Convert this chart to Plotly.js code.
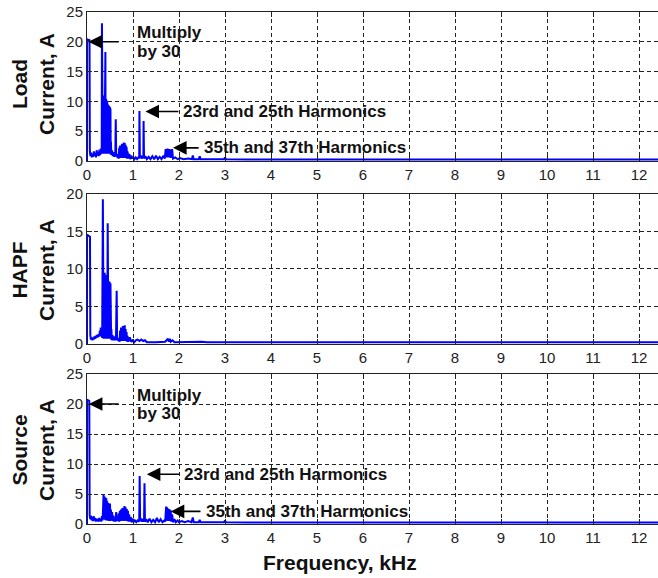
<!DOCTYPE html>
<html>
<head>
<meta charset="utf-8">
<script src="https://cdn.plot.ly/plotly-3.0.1.min.js"></script>
<style>html,body{margin:0;padding:0;background:#fff;}#chart{width:658px;height:578px;}</style>
</head>
<body>
<div id="chart"></div>
<script>
// Frequency in kHz, amplitude in A
const loadFreq = [0,0.001,0.03,0.055,0.062,0.075,0.09,0.105,0.12,0.135,0.15,0.165,0.18,0.195,0.21,0.225,0.24,0.255,0.27,0.285,0.30,0.31,0.32,0.325,0.33,0.335,0.34,0.345,0.35,0.355,0.36,0.365,0.37,0.375,0.38,0.385,0.39,0.395,0.40,0.405,0.41,0.415,0.42,0.425,0.43,0.435,0.44,0.445,0.45,0.455,0.46,0.465,0.47,0.475,0.48,0.485,0.49,0.495,0.50,0.505,0.51,0.515,0.52,0.53,0.545,0.56,0.575,0.59,0.605,0.615,0.625,0.635,0.65,0.665,0.68,0.69,0.70,0.71,0.72,0.73,0.74,0.75,0.76,0.77,0.78,0.79,0.80,0.81,0.82,0.83,0.84,0.85,0.86,0.87,0.88,0.90,0.92,0.94,0.96,0.98,1.00,1.03,1.06,1.09,1.12,1.135,1.14,1.15,1.17,1.19,1.21,1.225,1.23,1.24,1.27,1.30,1.34,1.38,1.42,1.46,1.50,1.54,1.58,1.62,1.66,1.69,1.71,1.72,1.73,1.74,1.75,1.76,1.77,1.78,1.79,1.80,1.81,1.82,1.83,1.84,1.85,1.87,1.92,1.97,2.02,2.10,2.20,2.28,2.30,2.32,2.43,2.45,2.47,2.60,2.80,2.98,3.00,3.02,3.50,12.5];
const loadAmp = [0,20.5,20.2,20.4,1.6,0.8,1.4,0.6,1.2,0.7,1.6,0.9,1.3,0.6,1.8,0.9,1.5,0.8,1.9,1.0,1.6,2.1,1.2,23.1,1.3,11.0,1.2,10.9,1.3,11.0,1.2,10.8,1.4,10.7,1.2,10.5,1.3,10.6,18.3,1.2,10.3,1.3,10.2,1.2,10.0,1.3,9.8,1.2,9.4,1.3,9.3,1.2,9.2,1.3,9.1,1.2,9.0,1.3,8.9,1.2,8.8,1.1,3.2,1.0,1.8,0.8,1.5,0.7,1.3,0.8,7.0,0.7,1.2,0.5,0.9,0.4,2.2,0.6,2.6,0.5,2.4,0.6,2.9,0.5,2.8,0.6,3.1,0.5,3.0,0.6,2.7,0.5,2.4,0.4,1.6,0.4,1.2,0.3,0.9,0.4,0.7,0.3,0.6,0.3,0.6,0.4,8.4,0.5,0.9,0.4,0.8,0.5,6.7,0.4,0.8,0.3,0.7,0.3,0.8,0.3,0.9,0.3,0.7,0.3,0.9,0.4,2.0,0.6,2.0,0.6,2.1,0.6,2.0,0.6,2.0,0.6,1.9,0.5,1.9,0.6,2.0,0.4,0.6,0.3,0.5,0.3,0.4,0.3,0.9,0.3,0.3,0.8,0.3,0.35,0.3,0.3,0.6,0.3,0.25,0.25];

const hapfFreq = [0,0.001,0.035,0.065,0.072,0.085,0.10,0.115,0.13,0.145,0.16,0.175,0.19,0.205,0.22,0.235,0.25,0.265,0.28,0.29,0.30,0.31,0.32,0.33,0.345,0.35,0.355,0.36,0.365,0.37,0.375,0.38,0.385,0.39,0.395,0.40,0.405,0.41,0.415,0.42,0.425,0.43,0.435,0.44,0.45,0.455,0.46,0.465,0.47,0.475,0.48,0.485,0.49,0.495,0.50,0.505,0.51,0.515,0.52,0.525,0.53,0.54,0.555,0.57,0.585,0.60,0.615,0.63,0.645,0.655,0.67,0.685,0.70,0.71,0.72,0.73,0.74,0.75,0.76,0.77,0.78,0.79,0.80,0.81,0.82,0.83,0.84,0.85,0.86,0.87,0.88,0.90,0.93,0.96,0.99,1.02,1.06,1.10,1.14,1.18,1.22,1.26,1.30,1.50,1.70,1.76,1.78,1.80,1.82,1.86,1.90,2.50,2.60,12.5];
const hapfAmp = [0,14.6,14.4,14.3,1.2,0.6,0.9,0.5,0.8,0.6,1.0,0.7,1.1,0.8,1.2,0.9,1.3,1.0,1.8,1.2,2.2,1.0,2.0,0.8,19.3,0.8,9.6,0.7,9.5,0.8,9.4,0.7,9.5,0.8,9.3,0.7,9.2,0.8,9.0,0.7,9.2,0.8,8.8,0.7,16.1,0.8,8.6,0.7,8.4,0.8,8.3,0.7,8.3,0.8,8.2,0.7,8.1,0.8,8.0,0.6,2.0,0.5,1.2,0.5,1.0,0.5,0.9,0.5,7.1,0.5,0.8,0.4,0.6,0.3,1.8,0.5,2.2,0.4,2.0,0.5,2.4,0.4,2.3,0.5,2.5,0.4,2.0,0.4,1.6,0.3,1.1,0.3,0.9,0.3,0.5,0.2,0.5,0.6,0.4,0.6,0.4,0.5,0.25,0.25,0.3,0.7,0.3,0.7,0.3,0.5,0.25,0.3,0.25,0.25];

const sourceFreq = [0,0.001,0.03,0.05,0.058,0.07,0.085,0.10,0.115,0.13,0.145,0.16,0.175,0.19,0.205,0.22,0.235,0.25,0.265,0.28,0.295,0.31,0.325,0.34,0.36,0.37,0.38,0.39,0.40,0.41,0.42,0.43,0.44,0.45,0.46,0.47,0.48,0.49,0.50,0.51,0.52,0.53,0.545,0.56,0.575,0.59,0.605,0.62,0.635,0.645,0.66,0.675,0.69,0.70,0.715,0.725,0.74,0.75,0.765,0.775,0.79,0.80,0.815,0.825,0.84,0.85,0.865,0.875,0.89,0.90,0.915,0.93,0.95,0.97,0.99,1.01,1.04,1.07,1.10,1.135,1.145,1.155,1.18,1.20,1.22,1.24,1.25,1.26,1.29,1.32,1.36,1.40,1.44,1.48,1.52,1.56,1.60,1.64,1.68,1.70,1.72,1.73,1.74,1.75,1.76,1.77,1.78,1.79,1.80,1.81,1.82,1.83,1.85,1.87,1.90,1.93,1.97,2.00,2.06,2.12,2.20,2.27,2.30,2.32,2.43,2.45,2.47,2.60,2.62,2.98,3.00,3.02,3.50,12.5];
const sourceAmp = [0,20.7,20.6,20.5,1.5,0.8,1.4,0.6,1.2,0.5,1.3,0.6,1.0,0.4,0.9,0.5,0.8,0.4,1.0,0.5,0.9,0.4,1.3,0.6,4.9,0.8,4.6,0.7,4.4,0.6,4.3,0.7,3.8,0.6,3.5,0.5,3.0,0.6,3.4,0.5,2.4,0.6,2.0,0.5,1.4,0.4,1.0,0.4,2.0,0.5,1.3,0.5,1.8,0.4,2.2,0.5,2.4,0.5,2.6,0.6,2.7,0.5,3.0,0.6,2.8,0.5,2.5,0.5,2.2,0.4,1.6,0.4,1.2,0.3,0.9,0.3,0.6,0.3,0.6,0.4,8.0,0.5,0.9,0.4,0.8,0.4,6.8,0.4,0.8,0.3,0.9,0.3,0.7,0.3,1.0,0.3,0.8,0.3,0.6,0.4,2.9,0.6,2.8,0.5,2.6,0.5,2.5,0.5,2.4,0.5,2.3,0.4,1.6,0.3,0.8,0.3,0.6,0.3,0.5,0.3,0.5,0.3,1.1,0.3,0.3,0.7,0.3,0.4,0.3,0.3,0.6,0.3,0.25,0.25];

const xTicks = [0,1,2,3,4,5,6,7,8,9,10,11,12];
const yTicksLoad = [0,5,10,15,20,25];
const yTicksHapf = [0,5,10,15,20];
const yTicksSource = [0,5,10,15,20,25];
const panelLabels = ["Load<br>Current, A", "HAPF<br>Current, A", "Source<br>Current, A"];
const xLabel = "Frequency, kHz";
const noteMultiply = ["Multiply", "by 30"];
const noteHarm1 = "23rd and 25th Harmonics";
const noteHarm2 = "35th and 37th Harmonics";

const FONT = "Liberation Sans, Arial, sans-serif";
const blue = "#0000ff";

function trace(x, y, xa, ya) {
  return {x: x, y: y, xaxis: xa, yaxis: ya, type: "scatter", mode: "lines",
          line: {color: blue, width: 2}, hoverinfo: "skip", showlegend: false};
}

const data = [
  trace(loadFreq, loadAmp, "x", "y"),
  trace(hapfFreq, hapfAmp, "x2", "y2"),
  trace(sourceFreq, sourceAmp, "x3", "y3")
];

const xRangeEnd = 571 / 46;
function xAxis(anchor) {
  return {anchor: anchor, range: [0, xRangeEnd], tickvals: xTicks, ticktext: xTicks.map(String),
    ticks: "inside", ticklen: 5, tickcolor: "#222", showline: true, linecolor: "#222", linewidth: 1,
    mirror: "ticks", showgrid: true, gridcolor: "#222", gridwidth: 1, griddash: "4px,3px",
    zeroline: false, tickfont: {family: FONT, size: 15, color: "#222"}, fixedrange: true};
}
function yAxis(anchor, domain, range, ticks) {
  return {anchor: anchor, domain: domain, range: range, tickvals: ticks, ticktext: ticks.map(String),
    ticks: "inside", ticklen: 5, tickcolor: "#222", showline: true, linecolor: "#222", linewidth: 1,
    mirror: false, showgrid: true, gridcolor: "#222", gridwidth: 1, griddash: "4px,3px",
    zeroline: false, tickfont: {family: FONT, size: 15, color: "#222"}, fixedrange: true};
}

const annFont = {family: FONT, size: 17, color: "#111", weight: "bold"};
const anns = [];
function txt(xref, yref, x, y, text) {
  anns.push({xref: xref, yref: yref, x: x, y: y, text: "<b>" + text + "</b>", showarrow: false,
    xanchor: "left", yanchor: "middle", font: annFont});
}
function arrow(xref, yref, xHead, xTail, y) {
  anns.push({xref: xref, yref: yref, x: xHead, y: y, ax: xTail, ay: y, axref: xref, ayref: yref,
    text: "", showarrow: true, arrowhead: 2, arrowsize: 1.7, arrowwidth: 1.6, arrowcolor: "#000"});
}
// top panel notes
txt("x", "y", 1.05, 21.6, noteMultiply[0]);
txt("x", "y", 1.05, 18.4, noteMultiply[1]);
arrow("x", "y", 0.03, 0.72, 20.0);
txt("x", "y", 2.04, 8.3, noteHarm1);
arrow("x", "y", 1.27, 2.02, 8.3);
txt("x", "y", 2.5, 2.2, noteHarm2);
arrow("x", "y", 1.87, 2.46, 2.2);
// bottom panel notes
txt("x3", "y3", 1.05, 21.5, noteMultiply[0]);
txt("x3", "y3", 1.05, 18.4, noteMultiply[1]);
arrow("x3", "y3", 0.04, 0.72, 20.0);
txt("x3", "y3", 2.06, 8.3, noteHarm1);
arrow("x3", "y3", 1.3, 2.04, 8.3);
txt("x3", "y3", 2.54, 2.1, noteHarm2);
arrow("x3", "y3", 1.82, 2.5, 2.1);

// y-axis labels and x label
const labelY = [0.8547, 0.5329, 0.2215];
panelLabels.forEach(function (t, i) {
  anns.push({xref: "paper", yref: "paper", x: -0.0946, y: labelY[i], text: "<b>" + t + "</b>",
    textangle: -90, showarrow: false, xanchor: "center", yanchor: "middle",
    font: {family: FONT, size: 21, color: "#111"}});
});
anns.push({xref: "paper", yref: "paper", x: 0.443, y: 0.026, text: "<b>" + xLabel + "</b>",
  showarrow: false, xanchor: "center", yanchor: "middle", font: {family: FONT, size: 21, color: "#111"}});

const layout = {
  width: 658, height: 578,
  margin: {l: 87, r: 0, t: 0, b: 0, pad: 0},
  paper_bgcolor: "#fff", plot_bgcolor: "#fff",
  showlegend: false,
  xaxis: xAxis("y"),
  yaxis: yAxis("x", [0.7215, 0.9792], [0, 25], yTicksLoad),
  xaxis2: xAxis("y2"),
  yaxis2: yAxis("x2", [0.4048, 0.6644], [0, 20], yTicksHapf),
  xaxis3: xAxis("y3"),
  yaxis3: yAxis("x3", [0.0934, 0.3529], [0, 25], yTicksSource),
  annotations: anns
};

Plotly.newPlot("chart", data, layout, {staticPlot: true, displayModeBar: false});
</script>
</body>
</html>
